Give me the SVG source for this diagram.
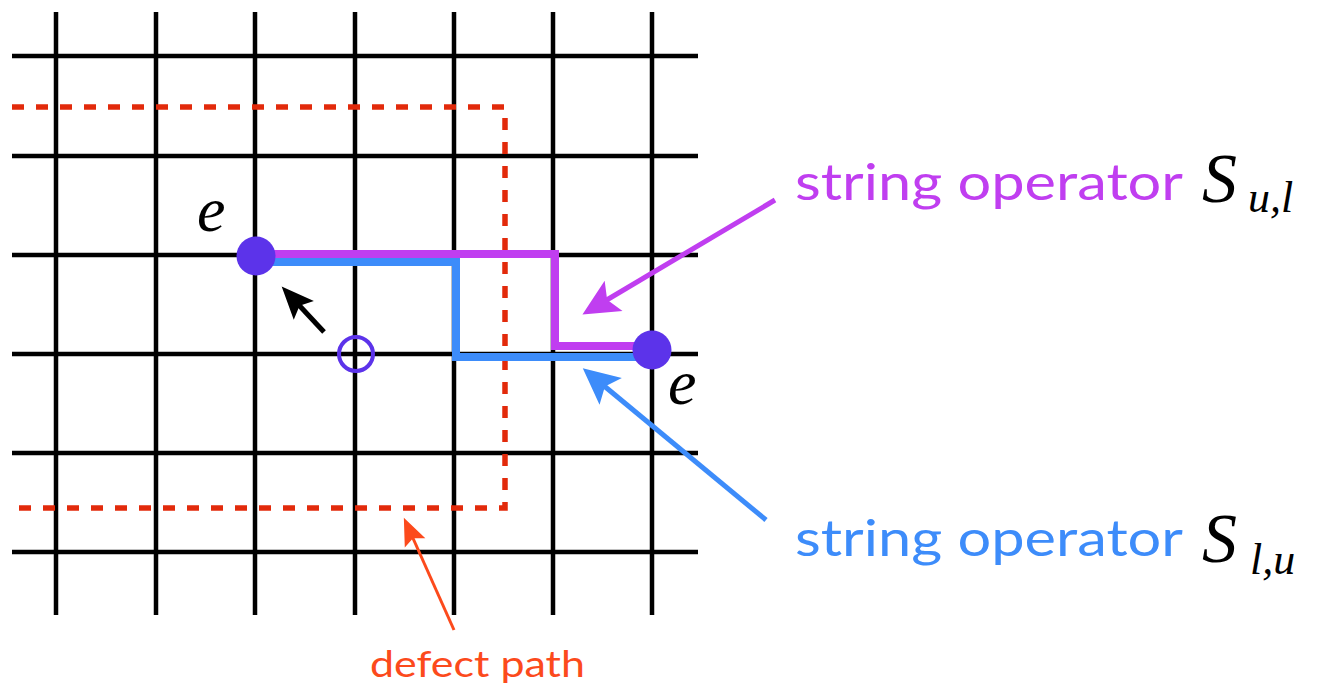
<svg xmlns="http://www.w3.org/2000/svg" width="1318" height="691" viewBox="0 0 1318 691">
<style>
.grid line{stroke:#000;stroke-width:4.5}
.defect{fill:none;stroke:#e22a0b;stroke-width:5.5;stroke-dasharray:12 12}
.lbl{font-family:Lato,"Open Sans",sans-serif}
.m{font-family:"Liberation Serif","DejaVu Serif",serif;font-style:italic;fill:#000}
</style>
<defs>
<marker id="hp" markerUnits="userSpaceOnUse" markerWidth="40" markerHeight="40" viewBox="-10 -15 32 30" refX="0" refY="0" orient="auto"><path d="M21,0 L-8,-14 L-2,0 L-8,14 Z" fill="#c03ef0"/></marker>
<marker id="hb" markerUnits="userSpaceOnUse" markerWidth="40" markerHeight="40" viewBox="-10 -15 32 30" refX="0" refY="0" orient="auto"><path d="M21,0 L-8,-14 L-2,0 L-8,14 Z" fill="#3d8cfa"/></marker>
<marker id="hk" markerUnits="userSpaceOnUse" markerWidth="40" markerHeight="40" viewBox="-10 -15 32 30" refX="0" refY="0" orient="auto"><path d="M18,0 L-8,-11 L-3,0 L-8,11 Z" fill="#000"/></marker>
<marker id="ho" markerUnits="userSpaceOnUse" markerWidth="40" markerHeight="40" viewBox="-10 -15 32 30" refX="0" refY="0" orient="auto"><path d="M16,0 L-6,-9 L-2,0 L-6,9 Z" fill="#fc4a1c"/></marker>
</defs>
<rect width="1318" height="691" fill="#fff"/>
<g id="grid" class="grid">
<line x1="56" y1="12" x2="56" y2="615"/>
<line x1="156" y1="12" x2="156" y2="615"/>
<line x1="255" y1="12" x2="255" y2="615"/>
<line x1="355" y1="12" x2="355" y2="615"/>
<line x1="454" y1="12" x2="454" y2="615"/>
<line x1="553" y1="12" x2="553" y2="615"/>
<line x1="652" y1="12" x2="652" y2="615"/>
<line x1="12" y1="56" x2="698" y2="56"/>
<line x1="12" y1="156" x2="698" y2="156"/>
<line x1="12" y1="255" x2="698" y2="255"/>
<line x1="12" y1="354" x2="698" y2="354"/>
<line x1="12" y1="453" x2="698" y2="453"/>
<line x1="12" y1="552" x2="698" y2="552"/>
</g>
<g id="defect-path">
<path class="defect" d="M12,107 H505 V508 H12"/>
</g>
<g id="strings">
<path d="M262,254 H555 V346 H650" fill="none" stroke="#c03ef0" stroke-width="8"/>
<path d="M262,262 H456 V357 H650" fill="none" stroke="#3d8cfa" stroke-width="8"/>
</g>
<g id="node-e1">
<circle cx="256" cy="256" r="19.5" fill="#5c33ea"/>
<text class="m" x="197" y="231" font-size="64">e</text>
</g>
<g id="node-e2">
<circle cx="652" cy="350" r="19.5" fill="#5c33ea"/>
<text class="m" x="668" y="404" font-size="64">e</text>
</g>
<g id="node-hole">
<circle cx="356" cy="354" r="17" fill="none" stroke="#5c33ea" stroke-width="4"/>
</g>
<g id="connectors">
<line x1="324" y1="332" x2="297" y2="303" stroke="#000" stroke-width="5" marker-end="url(#hk)"/>
<line x1="775" y1="200" x2="605" y2="301" stroke="#c03ef0" stroke-width="5" marker-end="url(#hp)"/>
<line x1="766" y1="520" x2="603" y2="385" stroke="#3d8cfa" stroke-width="5" marker-end="url(#hb)"/>
<line x1="454" y1="630" x2="412" y2="536" stroke="#fc4a1c" stroke-width="3" marker-end="url(#ho)"/>
</g>
<g id="label-sul">
<text class="lbl" x="795" y="200" font-size="50" fill="#c03ef0" textLength="388" lengthAdjust="spacingAndGlyphs">string operator</text>
<text class="m" x="1202" y="202" font-size="70">S</text>
<text class="m" x="1248" y="212" font-size="44">u,l</text>
</g>
<g id="label-slu">
<text class="lbl" x="795" y="556" font-size="50" fill="#3d8cfa" textLength="388" lengthAdjust="spacingAndGlyphs">string operator</text>
<text class="m" x="1202" y="562" font-size="70">S</text>
<text class="m" x="1250" y="574" font-size="44">l,u</text>
</g>
<g id="label-defect">
<text class="lbl" x="370" y="677" font-size="37" fill="#fc4a1c" textLength="215" lengthAdjust="spacingAndGlyphs">defect path</text>
</g>
</svg>
